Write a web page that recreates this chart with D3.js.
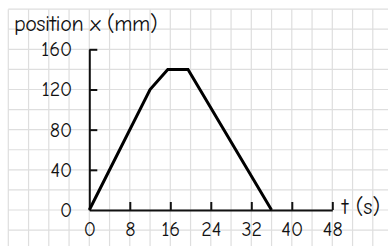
<!DOCTYPE html>
<html>
<head>
<meta charset="utf-8">
<script src="https://cdn.jsdelivr.net/npm/d3@7"></script>
<style>
 body { margin: 0; background: #fff; }
 text { font-family: "Comic Sans MS", "Comic Neue", cursive; fill: #111; }
</style>
</head>
<body>
<div id="chart"></div>
<script>
// data
var times = [0, 12, 15.5, 19.5, 36];
var positions = [0, 120, 140, 140, 0];
var xTicks = [0, 8, 16, 24, 32, 40, 48];
var yTicks = [0, 40, 80, 120, 160];

var svgWidth = 388;
var svgHeight = 246;

var svg = d3.select("#chart")
 .append("svg")
 .attr("width", svgWidth)
 .attr("height", svgHeight);

// scales
var x = d3.scaleLinear().domain([0, 48]).range([89.3, 332.3]);
var y = d3.scaleLinear().domain([0, 160]).range([210, 49.3]);

// graph paper grid, one square = 4 s by 20 mm
var gridX = d3.range(-16, 61, 4);
var gridY = d3.range(-40, 201, 20);

svg.append("g").selectAll("line")
 .data(gridX)
 .enter()
 .append("line")
 .attr("x1", d => x(d)).attr("x2", d => x(d))
 .attr("y1", y(200)).attr("y2", svgHeight)
 .attr("stroke", "#dedede")
 .attr("stroke-width", 1.2);

svg.append("g").selectAll("line")
 .data(gridY)
 .enter()
 .append("line")
 .attr("y1", d => y(d)).attr("y2", d => y(d))
 .attr("x1", x(-16)).attr("x2", svgWidth)
 .attr("stroke", "#dedede")
 .attr("stroke-width", 1.2);

// axes with inward ticks
var bottomAxis = d3.axisBottom(x).tickValues(xTicks).tickSize(-8).tickSizeOuter(0).tickPadding(12);
var leftAxis = d3.axisLeft(y).tickValues(yTicks).tickSize(-8).tickSizeOuter(0).tickPadding(17);

var gx = svg.append("g")
 .attr("transform", `translate(0, ${y(0)})`)
 .call(bottomAxis);

var gy = svg.append("g")
 .attr("transform", `translate(${x(0)}, 0)`)
 .call(leftAxis);

[gx, gy].forEach(function(g) {
 g.select(".domain").attr("stroke", "#111").attr("stroke-width", 2);
 g.selectAll(".tick line").attr("stroke", "#111").attr("stroke-width", 2);
 g.selectAll(".tick text").style("font-size", "20px").attr("fill", "#111");
});
gx.selectAll(".tick text").attr("dy", "0.71em");
gy.select(".tick:first-of-type line").remove();
gx.select(".tick:first-of-type line").remove();

// the path
var pts = times.map((t, i) => [t, positions[i]]);
var line = d3.line().x(d => x(d[0])).y(d => y(d[1]));

svg.append("path")
 .datum(pts)
 .attr("d", line)
 .attr("fill", "none")
 .attr("stroke", "#000")
 .attr("stroke-width", 3)
 .attr("stroke-linejoin", "miter");

// axis labels
svg.append("text")
 .attr("x", 14)
 .attr("y", 31)
 .style("font-size", "22px")
 .style("letter-spacing", "-0.4px")
 .text("position x (mm)");

svg.append("text")
 .attr("x", 342)
 .attr("y", 214)
 .style("font-size", "22px")
 .text("t (s)");
</script>
</body>
</html>
